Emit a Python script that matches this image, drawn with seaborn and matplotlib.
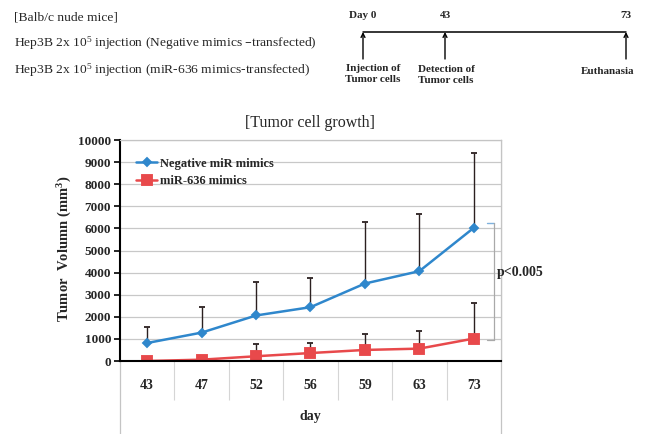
import numpy as np
import pandas as pd
import matplotlib.pyplot as plt
import seaborn as sns

# ---- data ----
days = ["43", "47", "52", "56", "59", "63", "73"]
neg_mean = [815, 1285, 2060, 2435, 3505, 4065, 6025]
neg_sd = [725, 1180, 1520, 1300, 2795, 2595, 3375]
mir_mean = [0, 60, 215, 360, 500, 560, 1015]
mir_sd = [0, 0, 555, 475, 725, 820, 1600]
groups = ["Negative miR mimics", "miR-636 mimics"]

header_lines = [
    "[Balb/c nude mice]",
    "Hep3B 2x 10$^{5}$ injection (Negative mimics \u2013transfected)",
    "Hep3B 2x 10$^{5}$ injection (miR-636 mimics-transfected)",
]
timeline_days = ["Day 0", "43", "73"]
timeline_events = ["Injection of\nTumor cells", "Detection of\nTumor cells", "Euthanasia"]

df = pd.DataFrame({
    "day": days * 2,
    "volume": neg_mean + mir_mean,
    "sd": neg_sd + mir_sd,
    "group": [groups[0]] * len(days) + [groups[1]] * len(days),
})

sns.set_theme(style="white")
plt.rcParams["font.family"] = ["Liberation Serif", "DejaVu Serif"]
plt.rcParams["mathtext.default"] = "regular"

fig = plt.figure(figsize=(6.45, 4.34), dpi=100)

# gray outer frame that runs down past the category labels
frame = fig.add_axes([0.186, -0.02, 0.5907, 0.697])
frame.patch.set_visible(False)
frame.set_xticks([])
frame.set_yticks([])
for s in ["top", "bottom"]:
    frame.spines[s].set_visible(False)
for s in ["left", "right"]:
    frame.spines[s].set_color("#c4c4c4")
    frame.spines[s].set_linewidth(0.9)

ax = fig.add_axes([0.186, 0.1682, 0.5907, 0.5092])

styles = {
    groups[0]: dict(color="#2f87cc", marker="D", ms=4.5),
    groups[1]: dict(color="#e8494b", marker="s", ms=6.5),
}
for g in groups:
    sub = df[df["group"] == g]
    st = styles[g]
    sns.pointplot(data=sub, x="day", y="volume", order=days, color=st["color"],
                  markers=st["marker"], markersize=st["ms"], linewidth=1.8,
                  errorbar=None, label=g, ax=ax)

handles, labels = ax.get_legend_handles_labels()

# one-sided SD bars
xpos = np.arange(len(days))
for g in groups:
    sub = df[df["group"] == g]
    m = sub["volume"].to_numpy()
    sd = sub["sd"].to_numpy()
    keep = sd > 0
    ax.errorbar(xpos[keep], m[keep], yerr=[np.zeros(keep.sum()), sd[keep]],
                fmt="none", ecolor="#2b2020", elinewidth=1, capsize=2.5,
                capthick=1.3, zorder=1.5)

ax.set_xlim(-0.5, len(days) - 0.5)
ax.set_ylim(0, 10000)
ax.set_yticks(range(0, 10001, 1000))
ax.set_yticklabels([str(v) for v in range(0, 10001, 1000)], fontweight="bold", fontsize=9.5)
ax.set_xticks(xpos)
ax.set_xticklabels(days, fontweight="bold", fontsize=10)
ax.set_xticks(xpos[:-1] + 0.5, minor=True)
ax.yaxis.grid(True, color="#c8c8c8", lw=0.9)
ax.xaxis.grid(False)
ax.set_axisbelow(True)

ax.tick_params(axis="y", left=True, direction="out", length=4.3, width=1.2,
               color="black", pad=2)
ax.tick_params(axis="x", which="major", bottom=True, length=0, pad=13)
ax.tick_params(axis="x", which="minor", bottom=True, direction="out", length=28,
               width=0.8, color="#d5d5d5")

for s in ["top", "right"]:
    ax.spines[s].set_color("#c4c4c4")
    ax.spines[s].set_linewidth(0.9)
for s in ["left", "bottom"]:
    ax.spines[s].set_color("black")
    ax.spines[s].set_linewidth(1.5)

ax.set_xlabel("day", fontweight="bold", fontsize=10)
ax.xaxis.set_label_coords(0.5, -0.253)
ax.xaxis.label.set_va("center")
ax.set_ylabel("Tumor  Volumn (mm$^{3}$)", fontweight="bold", fontsize=10.5)
ax.yaxis.set_label_coords(-0.145, 0.507)
ax.yaxis.label.set_va("center")

ax.legend(handles, labels, loc="upper left", bbox_to_anchor=(0.042, 0.92),
          frameon=False, prop={"weight": "bold", "size": 9}, handlelength=1.7,
          handletextpad=0.2, labelspacing=0.45, borderpad=0, borderaxespad=0)

# significance bracket between the last points
ytop, ybot = neg_mean[-1] + 230, mir_mean[-1] - 45
bx0, bx1 = 6.24, 6.37
ax.plot([bx0, bx1], [ytop, ytop], color="#7fb2dd", lw=1)
ax.plot([bx1, bx1], [ytop, ybot], color="#a9a9a9", lw=0.9)
ax.plot([bx0, bx1], [ybot, ybot], color="#a9a9a9", lw=0.9)
ax.text(6.43, (ytop + ybot) / 2 + 380, "p<0.005", fontweight="bold", fontsize=10,
        ha="left", va="center", clip_on=False)

fig.text(310 / 645, 1 - 123 / 434, "[Tumor cell growth]", ha="center", va="center",
         fontsize=11.5)

# header: study design text and timeline (schematic, pixel layout)
over = fig.add_axes([0, 0, 1, 1])
over.set_xlim(0, 645)
over.set_ylim(434, 0)
over.axis("off")
over.patch.set_visible(False)

for i, t in enumerate(header_lines):
    over.text(14, 17 + 26.5 * i, t, fontsize=9.7, ha="left", va="center")

tl_x = [363, 445, 626]
over.plot([tl_x[0], tl_x[-1]], [32, 32], color="black", lw=1.1)
for x, d in zip(tl_x, timeline_days):
    over.annotate("", xy=(x, 32), xytext=(x, 59),
                  arrowprops=dict(arrowstyle="->", lw=1, color="black",
                                  shrinkA=0, shrinkB=0, mutation_scale=7))
    over.text(x, 15, d, fontsize=8, fontweight="bold", ha="center", va="center")
ev_x = [373, 446, 608]
ev_y = [74, 75, 72]
for x, y, e in zip(ev_x, ev_y, timeline_events):
    over.text(x, y, e, fontsize=8, fontweight="bold", ha="center", va="center",
              linespacing=1.3)

fig.savefig("out.png", dpi=100, facecolor="white")
